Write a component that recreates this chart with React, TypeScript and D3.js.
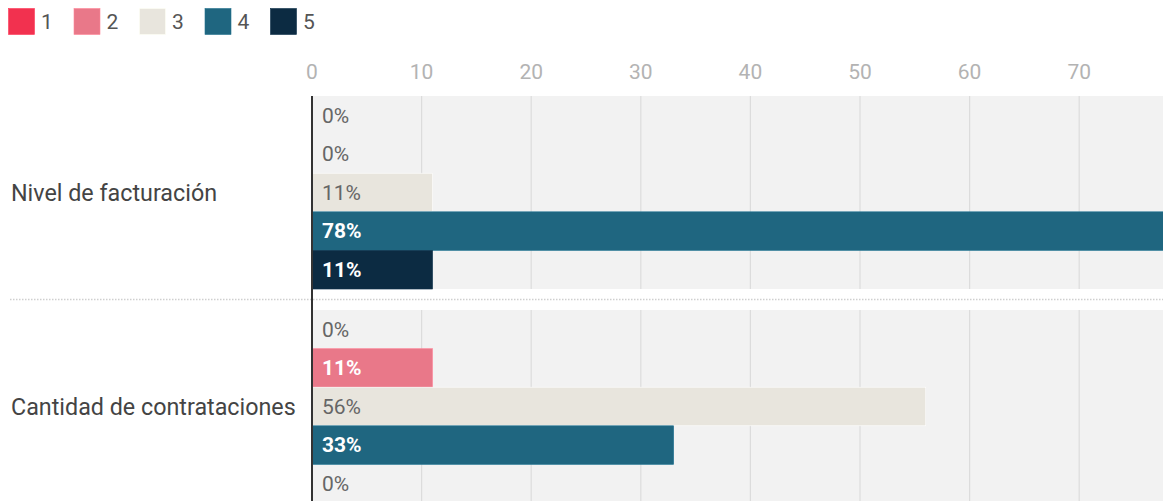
import React, { useEffect, useRef } from "react";
import * as d3 from "d3";

const categories = ["Nivel de facturación", "Cantidad de contrataciones"];
const seriesKeys = ["1", "2", "3", "4", "5"];
const seriesColors = ["#f2314f", "#e97889", "#e8e5dd", "#1f6680", "#0c2b42"];
const darkText = [false, true, false, true, true];
// percentage per category, in order of seriesKeys
const nivelValues = [0, 0, 11, 78, 11];
const cantidadValues = [0, 11, 56, 33, 0];

const W = 1163;
const H = 501;

const App = () => {
  const ref = useRef<SVGSVGElement>(null);

  useEffect(() => {
    const svg = d3.select(ref.current);
    svg.selectAll("*").remove();
    const font = "Roboto, 'Open Sans', sans-serif";

    const rows = [nivelValues, cantidadValues];

    const x = d3.scaleLinear().domain([0, 78]).range([312, 312 + 78 * 10.96]);
    const y0 = d3.scaleBand().domain(categories).range([96, 503]).paddingInner(0.098);
    const y1 = d3.scaleBand().domain(seriesKeys).range([0, y0.bandwidth()]);

    // legend
    const legend = svg.append("g").attr("transform", "translate(8,8)");
    seriesKeys.forEach((k, i) => {
      const g = legend.append("g").attr("transform", `translate(${i * 65.5},0)`);
      g.append("rect").attr("x", 0.5).attr("y", 0.5).attr("width", 26).attr("height", 26)
        .attr("fill", seriesColors[i]).attr("stroke", d3.color(seriesColors[i])!.brighter(0.3).toString()).attr("stroke-width", 0.6);
      g.append("text").attr("x", 33).attr("y", 21).text(k)
        .attr("font-family", font).attr("font-size", 21).attr("fill", "#555");
    });

    // tick labels
    const ticks = x.ticks(8).filter((t) => t <= 70);
    svg.append("g").selectAll("text").data(ticks).join("text")
      .attr("x", (d) => x(d)).attr("y", 79).attr("text-anchor", "middle")
      .attr("font-family", font).attr("font-size", 21).attr("fill", "#b3b3b3")
      .text((d) => d);

    categories.forEach((c, ci) => {
      const gy = y0(c)!;
      const g = svg.append("g").attr("transform", `translate(0,${gy})`);
      g.append("rect").attr("x", x(0)).attr("y", 0).attr("width", W - x(0)).attr("height", y0.bandwidth()).attr("fill", "#f2f2f2");
      g.selectAll("line.grid").data(ticks.filter((t) => t > 0)).join("line")
        .attr("x1", (d) => x(d)).attr("x2", (d) => x(d)).attr("y1", 0).attr("y2", y0.bandwidth())
        .attr("stroke", "#dcdcdc").attr("stroke-width", 1.2);
      g.selectAll("rect.bar").data(rows[ci]).join("rect").attr("class", "bar")
        .attr("x", x(0)).attr("y", (_d, i) => y1(seriesKeys[i])!)
        .attr("width", (d) => x(d) - x(0)).attr("height", y1.bandwidth())
        .attr("fill", (_d, i) => seriesColors[i])
        .attr("stroke", (d, i) => (d > 0 ? d3.color(seriesColors[i])!.brighter(0.4).toString() : "none"))
        .attr("stroke-width", 0.6);
      g.selectAll("text.val").data(rows[ci]).join("text").attr("class", "val")
        .attr("x", x(0) + 10).attr("y", (_d, i) => y1(seriesKeys[i])! + y1.bandwidth() / 2)
        .attr("dy", "0.35em")
        .attr("font-family", font).attr("font-size", 21)
        .attr("font-weight", (d, i) => (darkText[i] && d > 0 ? 700 : 400))
        .attr("fill", (d, i) => (darkText[i] && d > 0 ? "#ffffff" : "#666"))
        .text((d) => `${d}%`);
      svg.append("text").attr("x", 11).attr("y", gy + y0.bandwidth() / 2).attr("dy", "0.35em")
        .attr("font-family", font).attr("font-size", 23.3).attr("fill", "#444").text(c);
    });

    // separator
    const sepY = (y0(categories[0])! + y0.bandwidth() + y0(categories[1])!) / 2;
    svg.append("line").attr("x1", 10).attr("x2", W).attr("y1", sepY).attr("y2", sepY)
      .attr("stroke", "#cfcfcf").attr("stroke-width", 1.5).attr("stroke-dasharray", "1.5,1.5");

    // axis line
    svg.append("line").attr("x1", x(0)).attr("x2", x(0)).attr("y1", 96).attr("y2", H)
      .attr("stroke", "#333").attr("stroke-width", 2);
  }, []);

  return (
    <svg
      ref={ref}
      width={W}
      height={H}
      style={{ display: "block", position: "absolute", left: 0, top: 0 }}
    />
  );
};

export default App;
